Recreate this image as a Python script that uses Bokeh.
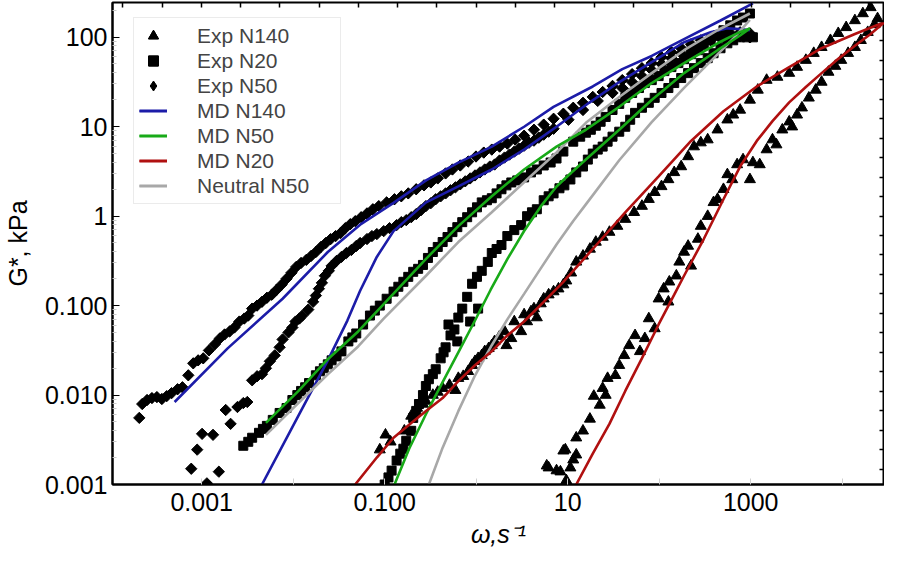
import math
from bokeh.plotting import figure
from bokeh.models import LogAxis, FixedTicker, Legend, LegendItem, Range1d
from bokeh.embed import file_html
from bokeh.resources import INLINE

# ---------------- data (omega in 1/s, G* in kPa) ----------------
exp_n140_hi = [
    (0.0884, 2.45e-3), (0.102, 3.59e-3), (0.116, 3.00e-3), (0.164, 3.98e-3), (0.195, 5.83e-3),
    (0.226, 7.16e-3), (0.262, 7.93e-3), (0.282, 8.56e-3), (0.336, 9.98e-3), (0.380, 0.0108),
    (0.430, 0.0119), (0.511, 0.0129), (0.593, 0.0113), (0.638, 0.0154), (0.722, 0.0162),
    (0.817, 0.0184), (0.902, 0.0215), (0.971, 0.0238), (1.05, 0.0257), (1.15, 0.0277),
    (1.24, 0.0307), (1.37, 0.0332), (1.48, 0.0358), (1.59, 0.0397), (1.80, 0.0451),
    (2.04, 0.0513), (2.14, 0.0358), (2.42, 0.0429), (2.61, 0.0662), (3.10, 0.0513),
    (3.34, 0.0792), (3.60, 0.0662), (3.97, 0.0855), (4.28, 0.0923), (4.60, 0.0733),
    (5.08, 0.105), (5.47, 0.119), (6.19, 0.132), (7.01, 0.143), (7.93, 0.154),
    (8.97, 0.171), (9.66, 0.189), (10.9, 0.232), (12.4, 0.307), (14.7, 0.358),
    (17.5, 0.428), (20.3, 0.512), (24.1, 0.582), (28.6, 0.661), (34.9, 0.771),
    (42.6, 0.922), (53.2, 1.10), (64.8, 1.29), (77.0, 1.54), (89.3, 1.84),
    (106, 2.14), (126, 2.56), (146, 3.07), (174, 3.57), (207, 4.62),
    (240, 5.96), (285, 6.60), (339, 7.13), (434, 9.20), (556, 11.9),
    (644, 13.5), (766, 15.3), (981, 19.8), (1196, 25.6), (1493, 33.0),
    (1960, 35.7), (2636, 39.5), (3212, 46.1), (4009, 55.1), (4888, 65.9),
    (5957, 76.8), (7438, 91.9), (9057, 110), (11050, 128), (13770, 153),
    (16820, 183), (20460, 214),
]
exp_n140_lo = [
    (5.90, 1.62e-3), (6.19, 1.54e-3), (7.55, 1.43e-3), (8.33, 1.39e-3), (8.97, 2.38e-3),
    (9.43, 2.45e-3), (9.66, 1.11e-3), (10.7, 1.54e-3), (11.5, 1.89e-3), (12.4, 2.15e-3),
    (12.4, 3.33e-3), (14.7, 3.98e-3), (17.5, 5.40e-3), (19.3, 9.73e-3), (22.4, 7.73e-3),
    (24.1, 0.0119), (26.0, 9.98e-3), (27.3, 0.0154), (33.2, 0.0166), (36.6, 0.0215),
    (41.5, 0.0277), (47.0, 0.0358), (54.5, 0.0463), (61.6, 0.0307), (69.7, 0.0429),
    (77.0, 0.0715), (89.3, 0.0553), (98.6, 0.119), (112, 0.154), (126, 0.110),
    (129, 0.184), (154, 0.215), (166, 0.307), (187, 0.396), (207, 0.462),
    (223, 0.277), (265, 0.553), (285, 0.771), (339, 0.995), (393, 1.42),
    (434, 1.54), (504, 1.99), (556, 2.91), (629, 2.56), (711, 3.76),
    (825, 4.27), (981, 2.56), (1057, 3.96), (1256, 3.76), (1493, 5.52),
    (1730, 7.13), (1912, 6.27), (2217, 9.20), (2636, 11.3), (2840, 9.94),
    (3212, 13.5), (3635, 16.2), (4320, 20.9), (5135, 25.6), (5957, 31.4),
    (7080, 40.6), (8416, 47.3), (9761, 55.1), (11600, 65.9), (13770, 76.8),
    (16000, 91.9), (19020, 113), (22610, 138), (24350, 161),
]
exp_n20_hi = [
    (2.85e-3, 2.71e-3), (3.23e-3, 3.00e-3), (3.56e-3, 3.33e-3), (4.23e-3, 3.78e-3), (4.67e-3, 4.18e-3),
    (5.16e-3, 4.52e-3), (5.98e-3, 5.27e-3), (7.11e-3, 6.30e-3), (8.46e-3, 7.16e-3), (9.80e-3, 8.79e-3),
    (0.0111, 9.98e-3), (0.0122, 0.0111), (0.0135, 0.0122), (0.0149, 0.0136), (0.0177, 0.0166),
    (0.0196, 0.0184), (0.0216, 0.0199), (0.0239, 0.0220), (0.0263, 0.0244), (0.0298, 0.0270),
    (0.0337, 0.0307), (0.0401, 0.0397), (0.0443, 0.0440), (0.0489, 0.0487), (0.0581, 0.0613),
    (0.0690, 0.0772), (0.0781, 0.0877), (0.0884, 0.0997), (0.105, 0.119), (0.125, 0.143),
    (0.141, 0.162), (0.160, 0.184), (0.181, 0.209), (0.205, 0.238), (0.232, 0.257),
    (0.262, 0.284), (0.297, 0.340), (0.336, 0.396), (0.380, 0.451), (0.430, 0.512),
    (0.486, 0.582), (0.550, 0.661), (0.622, 0.751), (0.704, 0.854), (0.797, 0.970),
    (0.902, 1.10), (1.02, 1.25), (1.15, 1.42), (1.31, 1.50), (1.48, 1.58),
    (1.67, 1.79), (1.89, 1.99), (2.14, 2.20), (2.42, 2.37), (2.81, 2.50),
    (3.34, 2.70), (3.97, 3.07), (4.60, 3.31), (5.47, 3.67), (6.51, 3.96),
    (7.55, 4.39), (8.97, 5.25), (11.5, 6.77), (13.7, 7.70), (15.8, 8.53),
    (17.9, 9.20), (20.3, 10.2), (22.9, 11.3), (26.0, 12.8), (30.9, 15.3),
    (36.6, 17.9), (42.6, 20.9), (50.6, 23.7), (60.1, 26.9), (69.7, 30.6),
    (82.9, 33.0), (98.6, 36.6), (114, 41.6), (136, 46.1), (162, 51.1),
    (187, 56.5), (223, 64.3), (265, 71.2), (307, 80.9), (365, 91.9),
    (434, 104), (504, 119), (598, 135), (711, 153), (825, 165), (981, 183),
]
exp_n20_lo = [
    (0.100, 1.00e-3), (0.110, 1.20e-3), (0.119, 1.43e-3), (0.135, 1.85e-3), (0.148, 2.21e-3),
    (0.160, 2.51e-3), (0.172, 3.08e-3), (0.195, 3.98e-3), (0.205, 5.55e-3), (0.221, 6.64e-3),
    (0.237, 7.93e-3), (0.262, 9.98e-3), (0.282, 0.0126), (0.304, 0.0150), (0.336, 0.0171),
    (0.361, 0.0194), (0.409, 0.0257), (0.440, 0.0300), (0.463, 0.0341), (0.524, 0.0463),
    (0.498, 0.0613), (0.622, 0.0397), (0.578, 0.0540), (0.638, 0.0733), (0.704, 0.0923),
    (0.859, 0.0662), (1.05, 0.0923), (0.797, 0.125), (0.902, 0.175), (1.02, 0.209),
    (1.15, 0.244), (1.34, 0.307), (1.48, 0.386), (1.67, 0.428), (1.89, 0.474),
    (2.19, 0.597), (2.61, 0.696), (3.10, 0.791), (3.60, 0.995), (4.07, 1.10),
    (4.60, 1.19), (5.47, 1.50), (6.19, 1.66), (7.01, 1.79), (8.13, 2.04),
    (9.20, 2.20), (10.7, 2.56), (12.4, 3.07), (14.7, 3.57), (16.6, 4.27),
    (18.8, 4.98), (21.3, 5.52), (24.1, 5.96), (27.3, 6.77), (30.9, 7.70),
    (36.6, 8.75), (42.6, 9.94), (48.2, 11.9), (54.5, 14.2), (64.8, 16.2),
    (77.0, 18.4), (89.3, 20.9), (106, 23.7), (126, 26.9), (146, 30.6),
    (174, 34.8), (207, 39.5), (240, 44.9), (285, 51.1), (339, 58.0),
    (393, 65.9), (468, 74.9), (556, 85.1), (644, 91.9), (766, 99.2),
    (911, 99.2), (1057, 99.2),
]
exp_n50_hi = [
    (2.08e-4, 5.55e-3), (2.24e-4, 7.93e-3), (2.53e-4, 8.79e-3), (2.86e-4, 9.25e-3), (3.24e-4, 9.48e-3),
    (3.67e-4, 9.02e-3), (4.15e-4, 9.73e-3), (4.69e-4, 0.0105), (5.45e-4, 0.0116), (6.16e-4, 0.0122),
    (7.14e-4, 0.0166), (8.09e-4, 0.0226), (9.15e-4, 0.0244), (1.04e-3, 0.0257), (1.20e-3, 0.0315),
    (1.39e-3, 0.0368), (1.58e-3, 0.0429), (1.78e-3, 0.0475), (2.02e-3, 0.0513), (2.28e-3, 0.0568),
    (2.58e-3, 0.0662), (2.92e-3, 0.0715), (3.23e-3, 0.0772), (3.56e-3, 0.0923), (4.03e-3, 0.0997),
    (4.56e-3, 0.110), (5.16e-3, 0.122), (5.84e-3, 0.132), (6.60e-3, 0.150), (7.47e-3, 0.171),
    (8.46e-3, 0.199), (9.57e-3, 0.232), (0.0108, 0.270), (0.0122, 0.299), (0.0139, 0.323),
    (0.0157, 0.358), (0.0177, 0.396), (0.0201, 0.451), (0.0227, 0.499), (0.0257, 0.553),
    (0.0291, 0.597), (0.0329, 0.645), (0.0372, 0.732), (0.0421, 0.811), (0.0477, 0.876),
    (0.0553, 0.970), (0.0641, 1.07), (0.0743, 1.19), (0.0862, 1.29), (0.105, 1.42),
    (0.128, 1.54), (0.152, 1.66), (0.181, 1.79), (0.221, 1.99), (0.269, 2.20),
    (0.319, 2.37), (0.380, 2.63), (0.463, 2.99), (0.550, 3.31), (0.670, 3.67),
    (0.817, 4.06), (0.995, 4.62), (1.21, 5.11), (1.48, 5.52), (1.80, 5.96),
    (2.19, 6.44), (2.67, 7.13), (3.34, 7.89), (4.28, 9.20), (5.47, 10.5),
    (7.01, 12.2), (8.97, 13.9), (11.5, 16.2), (14.7, 18.4), (18.8, 21.4),
    (24.1, 24.3), (30.9, 28.4), (39.5, 33.0), (50.6, 38.5), (64.8, 44.9),
    (82.9, 51.1), (106, 59.5), (136, 67.6), (174, 74.9), (223, 83.0),
    (285, 91.9), (365, 99.2), (468, 104), (598, 110), (766, 113), (981, 110),
]
exp_n50_lo = [
    (7.69e-4, 1.50e-3), (8.93e-4, 2.45e-3), (1.01e-3, 3.68e-3), (1.14e-3, 1.03e-3), (1.33e-3, 3.59e-3),
    (1.54e-3, 1.39e-3), (1.83e-3, 6.80e-3), (2.07e-3, 4.76e-3), (2.46e-3, 7.34e-3), (2.85e-3, 8.13e-3),
    (3.15e-3, 8.35e-3), (3.56e-3, 0.0146), (4.03e-3, 0.0162), (4.56e-3, 0.0171), (5.03e-3, 0.0199),
    (5.56e-3, 0.0238), (6.28e-3, 0.0277), (7.11e-3, 0.0341), (7.66e-3, 0.0418), (8.88e-3, 0.0500),
    (9.80e-3, 0.0568), (0.0106, 0.0662), (0.0117, 0.0715), (0.0126, 0.0772), (0.0146, 0.0900),
    (0.0165, 0.110), (0.0177, 0.129), (0.0191, 0.154), (0.0206, 0.179), (0.0222, 0.215),
    (0.0245, 0.244), (0.0263, 0.277), (0.0298, 0.315), (0.0337, 0.349), (0.0382, 0.386),
    (0.0432, 0.417), (0.0489, 0.462), (0.0539, 0.499), (0.0641, 0.553), (0.0725, 0.597),
    (0.0821, 0.628), (0.0976, 0.678), (0.113, 0.732), (0.135, 0.791), (0.152, 0.854),
    (0.172, 0.899), (0.195, 0.970), (0.221, 1.05), (0.249, 1.16), (0.282, 1.29),
    (0.319, 1.39), (0.361, 1.54), (0.409, 1.66), (0.463, 1.79), (0.524, 1.94),
    (0.593, 2.09), (0.670, 2.26), (0.759, 2.44), (0.859, 2.63), (0.971, 2.84),
    (1.10, 3.07), (1.24, 3.31), (1.41, 3.57), (1.59, 3.76), (1.80, 4.17),
    (2.04, 4.50), (2.31, 4.86), (2.61, 5.25), (2.95, 5.66), (3.34, 6.11),
    (3.78, 6.60), (4.28, 6.95), (4.84, 7.50), (5.47, 8.10), (6.19, 8.75),
    (7.01, 9.44), (10.2, 11.9), (14.7, 15.3), (21.3, 19.3), (30.9, 23.7),
    (39.5, 26.9), (50.6, 31.4), (64.8, 36.6), (82.9, 42.7), (106, 49.8),
    (136, 58.0), (174, 65.9), (223, 74.9), (285, 83.0), (365, 91.9),
    (468, 96.7), (598, 102), (766, 102), (981, 99.2),
]

md_n140_a = [
    (5.06e-4, 8.36e-3), (1.92e-3, 0.0332), (7.66e-3, 0.119), (0.0239, 0.396), (0.0539, 0.80),
    (0.125, 1.40), (0.283, 2.50), (0.638, 3.95), (1.48, 5.96), (3.34, 9.94), (7.00, 16.6),
    (18.8, 28.0), (39.5, 43.8), (82.8, 61.4), (187, 94.6), (468, 153), (1057, 237),
]
md_n140_b = [
    (4.56e-3, 1.00e-3), (0.01138, 5.83e-3), (0.0239, 0.0244), (0.0391, 0.0679), (0.0539, 0.146),
    (0.0820, 0.349), (0.125, 0.678), (0.283, 1.42), (0.638, 2.14), (1.48, 3.31), (3.34, 5.52),
    (7.55, 9.94), (17.1, 18.4), (36.6, 31.4), (82.8, 52.4), (187, 87.4), (365, 113),
    (556, 125), (766, 123), (980, 119),
]
md_n50_a = [
    (5.04e-3, 4.88e-3), (0.01138, 0.01106), (0.0239, 0.0251), (0.0513, 0.0513), (0.125, 0.1355),
    (0.283, 0.332), (0.638, 0.771), (1.48, 1.66), (3.34, 3.31), (7.55, 5.96), (15.8, 9.20),
    (36.6, 16.6), (82.8, 30.6), (187, 51.1), (434, 85.1), (711, 110), (980, 125),
]
md_n50_b = [
    (0.128, 1.00e-3), (0.185, 2.51e-3), (0.283, 6.14e-3), (0.430, 0.0139), (0.638, 0.0300),
    (0.970, 0.068), (1.44, 0.150), (2.19, 0.33), (3.34, 0.68), (5.08, 1.28), (7.55, 2.14),
    (10.7, 2.99), (15.8, 4.28), (36.6, 9.20), (82.8, 19.8), (187, 39.5), (434, 71.2),
    (766, 104), (980, 125),
]
md_n20_a = [
    (0.0476, 1.00e-3), (0.0820, 2.00e-3), (0.125, 3.33e-3), (0.185, 4.64e-3), (0.283, 6.64e-3),
    (0.430, 9.25e-3), (0.638, 0.0143), (0.970, 0.0215), (1.48, 0.0308), (2.19, 0.0463),
    (3.34, 0.0662), (5.47, 0.110), (8.97, 0.184), (18.8, 0.428), (42.6, 1.10), (98.6, 2.77),
    (223, 6.9), (504, 14.8), (1165, 28.0), (2636, 46.1), (5957, 75.0), (13770, 108), (28900, 146),
]
md_n20_b = [
    (12.4, 1.00e-3), (18.8, 2.21e-3), (28.6, 4.75e-3), (42.6, 0.0111), (64.7, 0.0257),
    (98.6, 0.0614), (146, 0.132), (187, 0.215), (307, 0.553), (504, 1.54), (766, 3.57),
    (1165, 6.9), (1730, 11.5), (2636, 18.6), (4009, 27.6), (5957, 39.5), (9057, 57.0),
    (13770, 80.0), (20460, 108), (28900, 146),
]
neutral_n50_a = [
    (5.04e-3, 3.59e-3), (0.01138, 8.13e-3), (0.0239, 0.01706), (0.0513, 0.0349), (0.0975, 0.0715),
    (0.283, 0.215), (0.638, 0.512), (1.48, 1.10), (3.34, 2.38), (7.55, 5.12), (15.8, 11.0),
    (36.6, 21.4), (82.8, 39.5), (187, 71.2), (434, 119), (980, 183),
]
neutral_n50_b = [
    (0.304, 1.00e-3), (0.430, 2.58e-3), (0.638, 6.6e-3), (0.970, 0.0165), (1.48, 0.036),
    (2.19, 0.070), (3.34, 0.135), (5.08, 0.26), (7.55, 0.48), (11.5, 0.88), (15.8, 1.35),
    (36.6, 4.2), (82.8, 11.2), (187, 27.0), (434, 64.0), (644, 96.0), (980, 155),
]

x_ticks = [0.001, 0.1, 10, 1000]
x_tick_labels = ["0.001", "0.100", "10", "1000"]
y_ticks = [0.001, 0.01, 0.1, 1, 10, 100]
y_tick_labels = ["0.001", "0.010", "0.100", "1", "10", "100"]


def xy(pairs):
    return [a for a, b in pairs], [b for a, b in pairs]


FONT = "Liberation Sans"
BLUE = "#1c1ca8"
GREEN = "#18aa18"
RED = "#b01010"
GREY = "#a8a8a8"

p = figure(width=884, height=550, x_axis_type="log", y_axis_type="log",
           x_range=Range1d(1.06e-4, 2.9e4), y_range=Range1d(1e-3, 243),
           output_backend="svg", toolbar_location=None,
           min_border_left=103, min_border_right=0, min_border_top=2, min_border_bottom=66)
p.grid.visible = False
p.outline_line_color = "black"
p.outline_line_width = 2
p.background_fill_color = "white"
p.border_fill_color = "white"

xa = p.xaxis[0]
xa.ticker = FixedTicker(ticks=x_ticks, minor_ticks=[1e-4, 1e-2, 1, 100, 1e4])
xa.major_label_overrides = dict(zip(x_ticks, x_tick_labels))
xa.major_tick_in = 6
xa.major_tick_out = 0
xa.minor_tick_in = 6
xa.minor_tick_out = 0
xa.major_tick_line_color = "#d0d0d0"
xa.minor_tick_line_color = "#d0d0d0"
xa.axis_line_color = "black"
xa.axis_line_width = 2
xa.major_label_text_font = FONT
xa.major_label_text_font_size = "25px"
xa.major_label_text_color = "black"
xa.major_label_standoff = 8
xa.axis_label = "ω,s⁻¹"
xa.axis_label_text_font = FONT
xa.axis_label_text_font_size = "25px"
xa.axis_label_text_font_style = "italic"
xa.axis_label_text_color = "black"
xa.axis_label_standoff = 6

ya = p.yaxis[0]
ya.ticker = FixedTicker(ticks=y_ticks,
                        minor_ticks=[m * 10 ** e for e in range(-3, 3) for m in range(2, 10)])
ya.major_label_overrides = dict(zip(y_ticks, y_tick_labels))
ya.major_tick_in = 7
ya.major_tick_out = 0
ya.minor_tick_in = 4
ya.minor_tick_out = 0
ya.major_tick_line_color = "black"
ya.minor_tick_line_color = "#c8c8c8"
ya.axis_line_color = "black"
ya.axis_line_width = 2
ya.major_label_text_font = FONT
ya.major_label_text_font_size = "25px"
ya.major_label_text_color = "black"
ya.major_label_standoff = 5
ya.axis_label = "G*, kPa"
ya.axis_label_text_font = FONT
ya.axis_label_text_font_size = "25px"
ya.axis_label_text_font_style = "normal"
ya.axis_label_text_color = "black"
ya.axis_label_standoff = 10

top_axis = LogAxis(ticker=FixedTicker(ticks=[10 ** (0.4292 * k) for k in range(-9, 11)], minor_ticks=[]),
                   major_tick_in=5, major_tick_out=0, major_label_text_font_size="0px",
                   major_label_standoff=0, axis_line_color=None, minor_tick_line_color=None,
                   major_tick_line_color="black", major_tick_line_width=1.5)
p.add_layout(top_axis, "above")
right_axis = LogAxis(ticker=FixedTicker(ticks=[10 ** (0.2177 * k) for k in range(-13, 11)], minor_ticks=[]),
                     major_tick_in=5, major_tick_out=0, major_label_text_font_size="0px",
                     major_label_standoff=0, axis_line_color=None, minor_tick_line_color=None,
                     major_tick_line_color="black", major_tick_line_width=1.5)
p.add_layout(right_axis, "right")

# markers
r_t1 = p.scatter(*xy(exp_n140_hi), marker="triangle", size=11, color="black")
r_t2 = p.scatter(*xy(exp_n140_lo), marker="triangle", size=11, color="black")
r_s1 = p.scatter(*xy(exp_n20_hi), marker="square", size=9, color="black")
r_s2 = p.scatter(*xy(exp_n20_lo), marker="square", size=9, color="black")
r_d1 = p.scatter(*xy(exp_n50_hi), marker="square", angle=math.pi / 4, size=8, color="black")
r_d2 = p.scatter(*xy(exp_n50_lo), marker="square", angle=math.pi / 4, size=8, color="black")
# diamond swatch for the legend, drawn inside the rotated squares of the same series
r_dleg = p.scatter(*xy(exp_n50_hi), marker="diamond", size=10, color="black")

# lines
LW = 2.6
r_b1 = p.line(*xy(md_n140_a), line_color=BLUE, line_width=LW)
r_b2 = p.line(*xy(md_n140_b), line_color=BLUE, line_width=LW)
r_n1 = p.line(*xy(neutral_n50_a), line_color=GREY, line_width=LW)
r_n2 = p.line(*xy(neutral_n50_b), line_color=GREY, line_width=LW)
r_g1 = p.line(*xy(md_n50_a), line_color=GREEN, line_width=LW)
r_g2 = p.line(*xy(md_n50_b), line_color=GREEN, line_width=LW)
r_r1 = p.line(*xy(md_n20_a), line_color=RED, line_width=LW)
r_r2 = p.line(*xy(md_n20_b), line_color=RED, line_width=LW)

legend = Legend(items=[
    LegendItem(label="Exp N140", renderers=[r_t1, r_t2]),
    LegendItem(label="Exp N20", renderers=[r_s1, r_s2]),
    LegendItem(label="Exp N50", renderers=[r_dleg]),
    LegendItem(label="MD N140", renderers=[r_b1, r_b2]),
    LegendItem(label="MD N50", renderers=[r_g1, r_g2]),
    LegendItem(label="MD N20", renderers=[r_r1, r_r2]),
    LegendItem(label="Neutral N50", renderers=[r_n1, r_n2]),
], location=(21, 280), label_text_font=FONT, label_text_font_size="21px",
    label_height=25, glyph_height=25, glyph_width=28, label_width=138,
    label_standoff=30, spacing=0, padding=5, margin=0,
    border_line_color="#d8d8d8", border_line_width=1,
    background_fill_color="white", background_fill_alpha=1.0)
p.add_layout(legend)

open("out.html", "w").write(file_html(p, INLINE))
